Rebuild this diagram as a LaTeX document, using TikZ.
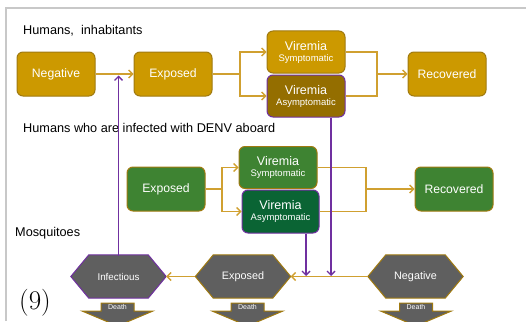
\documentclass[tikz,border=0pt]{standalone}
\usepackage{fontspec}
\newfontfamily\arial{Liberation Sans}
\usetikzlibrary{arrows.meta,backgrounds}
\definecolor{gold}{HTML}{CC9900}
\definecolor{goldline}{HTML}{A07A10}
\definecolor{darkgold}{HTML}{946E00}
\definecolor{connc}{HTML}{D0A030}
\definecolor{grn}{HTML}{3E8332}
\definecolor{dgrn}{HTML}{0A6434}
\definecolor{hexgray}{HTML}{5F5F5F}
\definecolor{purp}{HTML}{7030A0}
\definecolor{framegray}{HTML}{C8C8C8}
\begin{document}
\begin{tikzpicture}[x=1pt,y=-1pt,
  box/.style={rectangle, rounded corners=6pt, minimum width=78pt, minimum height=44pt,
    inner sep=0pt, draw=goldline, line width=1pt, fill=gold, text=white,
    font=\arial\fontsize{12.2}{14}\selectfont, align=center},
  vir/.style={box, minimum height=42pt, font=\arial\fontsize{12.5}{11}\selectfont},
  hexbox/.style={rectangle, minimum width=95pt, minimum height=43pt, inner sep=0pt,
    text=white, font=\arial\fontsize{10.8}{12}\selectfont},
  hexp/.style={insert path={(#1.west) -- ([xshift=18pt]#1.north west) -- ([xshift=-18pt]#1.north east)
    -- (#1.east) -- ([xshift=-18pt]#1.south east) -- ([xshift=18pt]#1.south west) -- cycle}},
  deathp/.style={insert path={([shift={(-16.5,-4)}]#1.center) -- ([shift={(16.5,-4)}]#1.center)
    -- ([shift={(16.5,4)}]#1.center) -- ([shift={(35.5,4)}]#1.center) -- ([shift={(0,19)}]#1.center)
    -- ([shift={(-35.5,4)}]#1.center) -- ([shift={(-16.5,4)}]#1.center) -- cycle}},
  dlabel/.style={inner sep=0pt, text=white, font=\arial\fontsize{7}{8}\selectfont},
  lbl/.style={anchor=west, inner sep=0pt, font=\arial\fontsize{12.7}{14}\selectfont},
  conn/.style={draw=connc, line width=1.4pt},
  arr/.style={conn, -{Straight Barb[length=4pt,width=8pt]}},
  parr/.style={draw=purp, line width=1.4pt, -{Straight Barb[length=4pt,width=8pt]}}
]
\useasboundingbox (0,0) rectangle (526,321);
% frame
\draw[framegray, line width=2pt] (6,321) -- (6,8) -- (526,8);

% labels
\node[lbl] (t1) at (23,31) {Humans,\ \ inhabitants};
\node[lbl] (t2) at (23,128) {Humans who are infected with DENV aboard};
\node[lbl] (t3) at (15,233) {Mosquitoes};
\node[anchor=west, inner sep=0pt, font=\fontsize{27}{27}\selectfont] (nine) at (19,303) {(9)};

% humans inhabitants
\node[box] (neg1) at (56,74) {Negative};
\node[box] (exp1) at (173,74) {Exposed};
\node[vir] (vs1) at (306,52) {Viremia\\{\fontsize{9.5}{11}\selectfont Symptomatic}};
\node[vir, fill=darkgold, draw=purp] (va1) at (306,96) {Viremia\\{\fontsize{9.5}{11}\selectfont Asymptomatic}};
\node[box] (rec1) at (447,74) {Recovered};

% humans aboard
\node[box, fill=grn] (exp2) at (166,189) {Exposed};
\node[vir, fill=grn] (vs2) at (278,167.5) {Viremia\\{\fontsize{9.5}{11}\selectfont Symptomatic}};
\node[vir, fill=dgrn, draw=purp, minimum width=77pt, minimum height=43pt] (va2) at (280.5,211.5) {Viremia\\{\fontsize{9.5}{11}\selectfont Asymptomatic}};
\node[box, fill=grn] (rec2) at (454,189) {Recovered};

% mosquitoes
\node[hexbox] (inf) at (118.5,276.5) {\fontsize{9.8}{12}\selectfont Infectious};
\node[hexbox] (expm) at (243,276.5) {Exposed};
\node[hexbox] (negm) at (415.5,276.5) {Negative};
\begin{scope}[on background layer]
  \filldraw[fill=hexgray, draw=purp, line width=1pt, hexp=inf];
  \filldraw[fill=hexgray, draw=goldline, line width=1pt, hexp=expm];
  \filldraw[fill=hexgray, draw=goldline, line width=1pt, hexp=negm];
\end{scope}

% death arrows
\node[dlabel] (d1) at (117.5,307) {Death};
\node[dlabel] (d2) at (247.5,307) {Death};
\node[dlabel] (d3) at (416,307) {Death};
\begin{scope}[on background layer]
  \filldraw[fill=hexgray, draw=goldline, line width=1pt, deathp=d1];
  \filldraw[fill=hexgray, draw=goldline, line width=1pt, deathp=d2];
  \filldraw[fill=hexgray, draw=goldline, line width=1pt, deathp=d3];
\end{scope}

% coordinates
\coordinate (s1) at (240,74);
\coordinate (j1) at (377,74);
\coordinate (s2) at (222,189);
\coordinate (j2) at (366,189);
\coordinate (p1) at (331,276);
\coordinate (p2) at (306,276);
\coordinate (p3) at (118.5,75.5);

% gold connectors
\draw[arr] (neg1) -- (exp1);
\draw[conn] (exp1.east) -- (s1);
\draw[arr] (s1) |- (vs1.west);
\draw[arr] (s1) |- (va1.west);
\draw[conn] (vs1.east) -| (j1);
\draw[conn] (va1.east) -| (j1);
\draw[arr] (j1) -- (rec1.west);

\draw[conn] (exp2.east) -- (s2);
\draw[arr] (s2) |- (vs2.west);
\draw[arr] (s2) |- (va2.west);
\draw[conn] (vs2.east) -| (j2);
\draw[conn] (va2.east) -| (j2);
\draw[arr] (j2) -- (rec2.west);

\draw[arr] (negm.west) -- (expm.east);
\draw[arr] (expm.west) -- (inf.east);

% purple connectors
\draw[parr] (va1.south -| p1) -- (p1);
\draw[parr] (va2.south -| p2) -- (p2);
\draw[parr] ([yshift=-1pt]inf.north) -- (p3);
\end{tikzpicture}
\end{document}
